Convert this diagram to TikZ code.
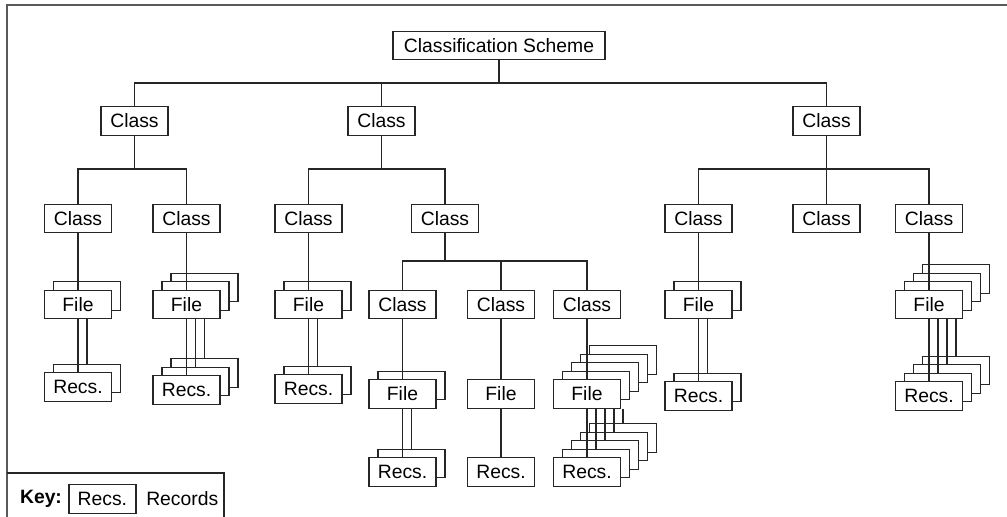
\documentclass[tikz,border=0pt]{standalone}
\usepackage{fontspec}
\setmainfont{Liberation Sans}
\usetikzlibrary{positioning}

\begin{document}
\begin{tikzpicture}[x=0.02cm, y=-0.02cm, every node/.style={font=\fontsize{11}{13}\selectfont},
  box/.style={rectangle, draw=black!85, fill=white, line width=0.8pt, inner sep=0pt, minimum width=1.34cm, minimum height=0.57cm},
  link/.style={draw=black!85, line width=0.6pt}]
  \useasboundingbox (0,0) rectangle (1007,517);
  % frame and key
  \draw[black!65, line width=1.1pt] (7,517) -- (7,5) -- (1007,5);
  \draw[black!85, line width=0.8pt] (7,473) -- (224,473) -- (224,517);
  \node[font=\fontsize{11}{13}\selectfont\bfseries] (key) at (41,499) {Key:};
  \node[box] (keyrecs) [right=0pt of key] {Recs.};
  \node (keytext) [right=0.07cm of keyrecs] {Records};

  % classes
  \node[box, minimum width=4.24cm] (scheme) at (499,45.5) {Classification Scheme};
  \node[box] (c1) at (134.5,121) {Class};
  \node[box] (c2) at (381.5,121) {Class};
  \node[box] (c3) at (826.5,121) {Class};
  \node[box] (c11) at (78,218.5) {Class};
  \node[box] (c12) at (186.5,218.5) {Class};
  \node[box] (c21) at (308.5,218.5) {Class};
  \node[box] (c22) at (445,218.5) {Class};
  \node[box] (c31) at (698.5,218.5) {Class};
  \node[box] (c32) at (826.5,218.5) {Class};
  \node[box] (c33) at (929,218.5) {Class};
  \node[box] (c221) at (402.5,304.5) {Class};
  \node[box] (c222) at (501,304.5) {Class};
  \node[box] (c223) at (587,304.5) {Class};

  % tree lines
  \coordinate (j0) at (499,83);
  \coordinate (j1) at (134.5,169);
  \coordinate (j2) at (381.5,169);
  \coordinate (j3) at (826.5,169);
  \coordinate (j22) at (445,261);
  \draw[link] (scheme) -- (j0);
  \draw[link] (j0) -| (c1);
  \draw[link] (j0) -| (c2);
  \draw[link] (j0) -| (c3);
  \draw[link] (c1) -- (j1);
  \draw[link] (j1) -| (c11);
  \draw[link] (j1) -| (c12);
  \draw[link] (c2) -- (j2);
  \draw[link] (j2) -| (c21);
  \draw[link] (j2) -| (c22);
  \draw[link] (c3) -- (j3);
  \draw[link] (j3) -| (c31);
  \draw[link] (j3) -- (c32);
  \draw[link] (j3) -| (c33);
  \draw[link] (c22) -- (j22);
  \draw[link] (j22) -| (c221);
  \draw[link] (j22) -| (c222);
  \draw[link] (j22) -| (c223);

  % stacks of files and records
  \foreach \p/\x/\fy/\ry/\m in {c11/78/304.5/387/1, c12/186.5/304.5/390/2,
      c21/308.5/304.5/389/1, c221/402.5/394/472/1, c222/501/394/472/0,
      c223/587/394/472/4, c31/698.5/304.5/396/1, c33/929/304.5/396/3}{
    \foreach \k in {\m,...,0}
      \node[box] (f\p-\k) at ({\x+9*\k},{\fy-8.5*\k}) {\ifnum\k=0 File\fi};
    \foreach \k in {\m,...,0}
      \node[box] (r\p-\k) at ({\x+9*\k},{\ry-8.5*\k}) {\ifnum\k=0 Recs.\fi};
    \draw[link] (\p) -- (f\p-0);
    \foreach \k in {0,...,\m}
      \draw[link] (f\p-\k.south |- f\p-0.south) -- (r\p-\k.north);
  }
\end{tikzpicture}
\end{document}
